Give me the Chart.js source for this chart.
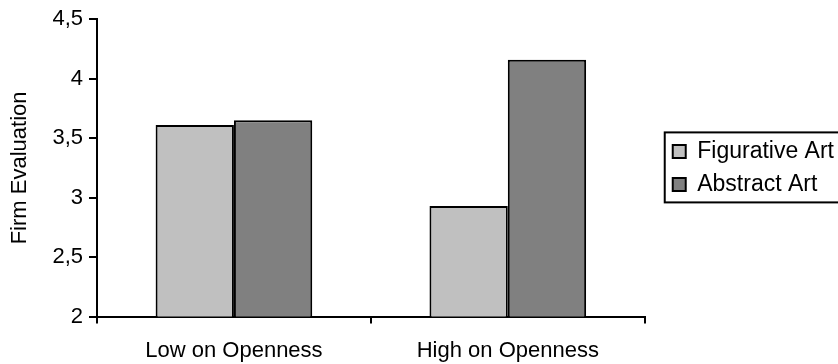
<!DOCTYPE html>
<html>
<head>
<meta charset="utf-8">
<script src="https://cdn.jsdelivr.net/npm/chart.js@4/dist/chart.umd.min.js"></script>
<style>
  html, body { margin: 0; padding: 0; background: #fff; }
  #wrap { width: 838px; height: 364px; }
</style>
</head>
<body>
<div id="wrap"><canvas id="firm"></canvas></div>
<script>
const categories = ["Low on Openness", "High on Openness"];
const seriesNames = ["Figurative Art", "Abstract Art"];
const figurative = [3.61, 2.93];
const abstractArt = [3.65, 4.16];
const yTicks = [2, 2.5, 3, 3.5, 4, 4.5];

const FONT = "'Liberation Sans', Arial, sans-serif";

// push legend a bit right, center it on the plot and put a frame around it (excel style)
const legendBox = {
  id: "legendBox",
  afterLayout(chart) {
    const lg = chart.legend;
    const area = chart.chartArea;
    const dx = 18;
    const dy = (area.top + area.bottom) / 2 - (lg.top + lg.bottom) / 2;
    lg.left += dx;
    lg.right += dx;
    lg.top += dy;
    lg.bottom += dy;
  },
  afterDraw(chart) {
    const lg = chart.legend;
    if (!lg || !lg.legendHitBoxes.length) return;
    const first = lg.legendHitBoxes[0];
    const last = lg.legendHitBoxes[lg.legendHitBoxes.length - 1];
    const top = first.top + first.height / 2 - 19;
    const bottom = last.top + last.height / 2 + 18;
    const ctx = chart.ctx;
    ctx.save();
    ctx.strokeStyle = "#000";
    ctx.lineWidth = 2;
    ctx.strokeRect(first.left - 8, top, 220, bottom - top);
    ctx.restore();
  },
};

new Chart(document.getElementById("firm"), {
  type: "bar",
  data: {
    labels: categories,
    datasets: [
      {
        label: seriesNames[0],
        data: figurative,
        backgroundColor: "#c0c0c0",
        borderColor: "#000",
        borderWidth: 2,
      },
      {
        label: seriesNames[1],
        data: abstractArt,
        backgroundColor: "#808080",
        borderColor: "#000",
        borderWidth: 2,
      },
    ],
  },
  options: {
    responsive: true,
    maintainAspectRatio: false,
    animation: false,
    categoryPercentage: 0.572,
    barPercentage: 1,
    layout: { padding: { top: 15, right: 12, bottom: -14, left: 0 } },
    plugins: {
      tooltip: { enabled: false },
      legend: {
        position: "right",
        align: "center",
        labels: {
          boxWidth: 13,
          boxHeight: 13,
          padding: 10,
          color: "#000",
          font: { family: FONT, size: 23, lineHeight: 1.2 },
        },
      },
    },
    scales: {
      x: {
        offset: true,
        grid: { display: true, offset: true, drawOnChartArea: false, drawTicks: true, tickLength: 7, color: "#000", lineWidth: 2 },
        border: { color: "#000", width: 2 },
        ticks: { color: "#000", padding: 14, font: { family: FONT, size: 22 } },
      },
      y: {
        min: 2,
        max: 4.5,
        afterBuildTicks(axis) {
          axis.ticks = yTicks.map((v) => ({ value: v }));
        },
        afterFit(axis) {
          axis.width = 97;
        },
        grid: { drawOnChartArea: false, drawTicks: true, tickLength: 8, color: "#000", lineWidth: 2 },
        border: { color: "#000", width: 2 },
        ticks: {
          color: "#000",
          padding: 6,
          font: { family: FONT, size: 22 },
          callback: (v) => String(v).replace(".", ","),
        },
        title: { display: true, text: "Firm Evaluation", color: "#000", padding: { top: 7, bottom: 0 }, font: { family: FONT, size: 22 } },
      },
    },
  },
  plugins: [legendBox],
});
</script>
</body>
</html>
